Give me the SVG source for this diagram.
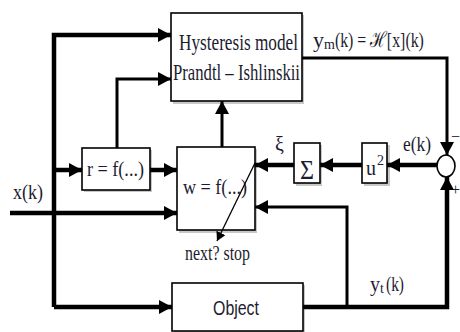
<svg xmlns="http://www.w3.org/2000/svg" width="460" height="332" viewBox="0 0 460 332">
<defs>
<marker id="ah" markerUnits="userSpaceOnUse" markerWidth="14" markerHeight="14" refX="13" refY="7" orient="auto">
<path d="M0,0 L13,7 L0,14 z" fill="#000"/>
</marker>
<marker id="ahs" markerUnits="userSpaceOnUse" markerWidth="10" markerHeight="10" refX="9" refY="5" orient="auto">
<path d="M0,0 L9,5 L0,10 z" fill="#000"/>
</marker>
</defs>
<style>
.box{fill:#fff;stroke:#000;stroke-width:1.6}
.sh{fill:#c8c8c8}
.t{font-family:"Liberation Serif",serif;font-size:22px;fill:#1c1c30}
.s{font-family:"Liberation Sans",sans-serif;font-size:20px;fill:#1c1c30}
.c{stroke:#000;stroke-width:4.5;fill:none}
.cm{stroke:#000;stroke-width:3;fill:none}
</style>
<rect width="460" height="332" fill="#fff"/>
<g id="hysteresis">
<rect class="sh" x="173" y="15" width="131" height="89"/>
<rect class="box" x="171" y="13" width="131" height="88"/>
<text class="t" x="179" y="50" style="font-size:24px" textLength="119" lengthAdjust="spacingAndGlyphs">Hysteresis model</text>
<text class="t" x="173" y="80" style="font-size:24px" textLength="127" lengthAdjust="spacingAndGlyphs">Prandtl – Ishlinskii</text>
</g>
<g id="r">
<rect class="sh" x="84" y="150" width="68" height="42"/>
<rect class="box" x="82" y="148" width="68" height="42"/>
<text class="t" x="87" y="176" textLength="57" lengthAdjust="spacingAndGlyphs">r = f(...)</text>
</g>
<g id="w">
<rect class="sh" x="179" y="149" width="78" height="84"/>
<rect class="box" x="177" y="147" width="78" height="83"/>
<text class="t" x="183" y="194" textLength="64" lengthAdjust="spacingAndGlyphs">w = f(...)</text>
</g>
<g id="sigma">
<rect class="sh" x="296" y="145" width="26" height="41"/>
<rect class="box" x="294" y="143" width="26" height="40"/>
<text class="t" x="300" y="179" style="font-size:28px" textLength="14" lengthAdjust="spacingAndGlyphs">Σ</text>
</g>
<g id="u2">
<rect class="sh" x="364" y="145" width="26" height="41"/>
<rect class="box" x="362" y="143" width="25" height="40"/>
<text class="t" x="366" y="175" style="font-size:20px">u</text>
<text class="t" x="377" y="165" style="font-size:14px">2</text>
</g>
<g id="sum">
<ellipse cx="446" cy="166" rx="9" ry="11" fill="#fff" stroke="#000" stroke-width="1.6"/>
<text class="t" x="451" y="142" style="font-size:16px">−</text>
<text class="t" x="451" y="195" style="font-size:16px">+</text>
</g>
<g id="object">
<rect class="sh" x="174" y="285" width="131" height="47"/>
<rect class="box" x="172" y="283" width="131" height="48"/>
<text class="s" x="213" y="315" textLength="46" lengthAdjust="spacingAndGlyphs">Object</text>
</g>
<g id="connectors">
<path class="c" d="M54,307 L54,35 L171,35" marker-end="url(#ah)"/>
<path class="c" d="M54,307 L172,307" marker-end="url(#ah)"/>
<path class="c" d="M54,170 L82,170" marker-end="url(#ah)"/>
<path class="c" d="M150,170 L177,170" marker-end="url(#ah)"/>
<path class="cm" d="M117,148 L117,79 L171,79" marker-end="url(#ah)"/>
<path class="cm" d="M222,147 L222,101" marker-end="url(#ah)"/>
<path class="c" d="M10,213 L177,213" marker-end="url(#ah)"/>
<path class="cm" d="M302,58 L447,58 L447,155" marker-end="url(#ah)"/>
<path class="c" d="M437,165 L387,165" marker-end="url(#ah)"/>
<path class="c" d="M362,165 L320,165" marker-end="url(#ah)"/>
<path class="c" d="M294,165 L255,165" marker-end="url(#ah)"/>
<path class="c" d="M303,307 L447,307 L447,177" marker-end="url(#ah)"/>
<path class="cm" d="M347,307 L347,207 L255,207" marker-end="url(#ah)"/>
<path d="M255,163 L217,241" stroke="#000" stroke-width="1.3" fill="none" marker-end="url(#ahs)"/>
</g>
<g id="labels">
<text class="t" x="313" y="47"><tspan textLength="11" lengthAdjust="spacingAndGlyphs">y</tspan><tspan dy="2" style="font-size:14px">m</tspan><tspan dy="-2" textLength="89" lengthAdjust="spacingAndGlyphs">(k) = ℋ[x](k)</tspan></text>
<text class="t" x="403" y="151" style="font-size:21px" textLength="28" lengthAdjust="spacingAndGlyphs">e(k)</text>
<text class="t" x="275" y="151" style="font-size:20px">ξ</text>
<text class="t" x="13" y="199" textLength="30" lengthAdjust="spacingAndGlyphs">x(k)</text>
<text class="t" x="185" y="260" style="font-size:20px" textLength="65" lengthAdjust="spacingAndGlyphs">next? stop</text>
<text class="t" x="370" y="291" textLength="10" lengthAdjust="spacingAndGlyphs">y</text>
<text class="t" x="380" y="293" style="font-size:14px">t</text>
<text class="t" x="386" y="291" textLength="18" lengthAdjust="spacingAndGlyphs">(k)</text>
</g>
</svg>
